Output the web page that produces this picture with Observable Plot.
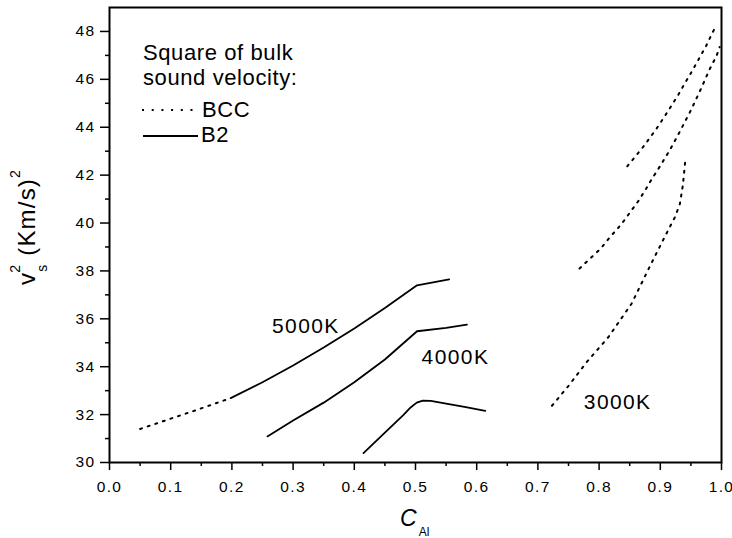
<!DOCTYPE html>
<html>
<head>
<meta charset="utf-8">
<script src="https://cdn.jsdelivr.net/npm/d3@7"></script>
<script src="https://cdn.jsdelivr.net/npm/@observablehq/plot@0.6"></script>
<style>
  body { margin: 0; background: #fff; }
  #chart { width: 732px; height: 538px; }
  .ticklab text { letter-spacing: 1.4px; }
</style>
</head>
<body>
<div id="chart"></div>
<script>
// ---- tick labels ----
const xTicks = [0.0, 0.1, 0.2, 0.3, 0.4, 0.5, 0.6, 0.7, 0.8, 0.9, 1.0];
const xMinorTicks = [0.05, 0.15, 0.25, 0.35, 0.45, 0.55, 0.65, 0.75, 0.85, 0.95];
const yTicks = [30, 32, 34, 36, 38, 40, 42, 44, 46, 48];
const yMinorTicks = [31, 33, 35, 37, 39, 41, 43, 45, 47];

// ---- B2 (solid) branches ----
const b2_5000K_x = [0.198, 0.25, 0.30, 0.35, 0.40, 0.45, 0.5025, 0.555];
const b2_5000K_y = [32.69, 33.35, 34.05, 34.80, 35.60, 36.45, 37.40, 37.65];
const b2_4000K_x = [0.258, 0.30, 0.35, 0.40, 0.45, 0.5025, 0.55, 0.584];
const b2_4000K_y = [31.09, 31.75, 32.50, 33.35, 34.30, 35.48, 35.62, 35.76];
const b2_3000K_x = [0.415, 0.45, 0.48, 0.492, 0.502, 0.512, 0.525, 0.55, 0.58, 0.614];
const b2_3000K_y = [30.39, 31.25, 31.98, 32.30, 32.50, 32.58, 32.57, 32.46, 32.32, 32.16];

// ---- BCC (dotted) branches ----
const bcc_5000K_low_x = [0.05, 0.10, 0.15, 0.198];
const bcc_5000K_low_y = [31.40, 31.83, 32.26, 32.69];
const bcc_5000K_x = [0.846, 0.860, 0.870, 0.883, 0.894, 0.906, 0.917, 0.929, 0.940, 0.952, 0.963, 0.975, 0.986, 0.992];
const bcc_5000K_y = [42.37, 42.80, 43.11, 43.56, 43.95, 44.41, 44.85, 45.34, 45.83, 46.35, 46.85, 47.40, 47.99, 48.27];
const bcc_4000K_x = [0.768, 0.8025, 0.817, 0.831, 0.839, 0.853, 0.865, 0.877, 0.885, 0.900, 0.917, 0.934, 0.951, 0.968, 0.980, 0.992, 0.997];
const bcc_4000K_y = [38.10, 38.93, 39.39, 39.79, 40.04, 40.53, 40.95, 41.44, 41.79, 42.39, 43.11, 43.92, 44.76, 45.69, 46.39, 46.99, 47.35];
const bcc_3000K_x = [0.723, 0.75, 0.78, 0.815, 0.853, 0.885, 0.91, 0.924, 0.932, 0.937, 0.941];
const bcc_3000K_y = [32.37, 33.20, 34.20, 35.23, 36.63, 38.30, 39.56, 40.25, 40.80, 41.60, 42.65];

// ---- curve labels ----
const curveLabels = ["5000K", "4000K", "3000K"];
const curveLabelX = [0.2655, 0.510, 0.775];
const curveLabelY = [35.70, 34.41, 32.53];

// ---- legend ----
const legendTitle = ["Square of bulk", "sound velocity:"];
const legendItems = ["BCC", "B2"];

function rows(xs, ys, series) {
  return xs.map((x, i) => ({x, y: ys[i], series}));
}
const b2Rows = [
  ...rows(b2_5000K_x, b2_5000K_y, "5000K"),
  ...rows(b2_4000K_x, b2_4000K_y, "4000K"),
  ...rows(b2_3000K_x, b2_3000K_y, "3000K")
];
const bccRows = [
  ...rows(bcc_5000K_low_x, bcc_5000K_low_y, "5000K-low"),
  ...rows(bcc_5000K_x, bcc_5000K_y, "5000K"),
  ...rows(bcc_4000K_x, bcc_4000K_y, "4000K"),
  ...rows(bcc_3000K_x, bcc_3000K_y, "3000K")
];
const labelRows = curveLabels.map((t, i) => ({text: t, x: curveLabelX[i], y: curveLabelY[i]}));

const FONT = "'Liberation Sans', Arial, Helvetica, sans-serif";

const chart = Plot.plot({
  width: 732,
  height: 538,
  marginLeft: 109,
  marginRight: 11,
  marginTop: 7,
  marginBottom: 76,
  style: {fontFamily: FONT, fontSize: "15px", background: "white", color: "black", overflow: "visible"},
  x: {domain: [0, 1]},
  y: {domain: [30, 49]},
  marks: [
    Plot.axisX({ticks: xTicks, tickSize: 8, tickPadding: 10, tickFormat: d3.format(".1f"), label: null, strokeWidth: 1.5, fontSize: 15.5, className: "ticklab"}),
    Plot.axisX({ticks: xMinorTicks, tickSize: 4, tickFormat: () => "", label: null, strokeWidth: 1.5}),
    Plot.axisY({ticks: yTicks, tickSize: 9, tickPadding: 5, label: null, strokeWidth: 1.5, fontSize: 15.5, className: "ticklab"}),
    Plot.axisY({ticks: yMinorTicks, tickSize: 4, tickFormat: () => "", label: null, strokeWidth: 1.5}),
    Plot.line(bccRows, {x: "x", y: "y", z: "series", stroke: "black", strokeWidth: 2, strokeDasharray: "2,6"}),
    Plot.line(b2Rows, {x: "x", y: "y", z: "series", stroke: "black", strokeWidth: 1.8}),
    Plot.text(labelRows, {x: "x", y: "y", text: "text", textAnchor: "start", fontSize: 21, fill: "black", className: "ticklab"}),
    Plot.frame({stroke: "black", strokeWidth: 2})
  ]
});

document.getElementById("chart").appendChild(chart);

const svg = d3.select(chart);

// y axis title
const yt = svg.append("text")
  .attr("transform", "translate(35,227) rotate(-90)")
  .attr("text-anchor", "middle")
  .attr("font-size", 24)
  .attr("letter-spacing", "1.2px")
  .attr("fill", "black");
yt.append("tspan").text("v");
yt.append("tspan").attr("font-size", 14).attr("dy", 12).text("s");
yt.append("tspan").attr("font-size", 14).attr("dx", -9).attr("dy", -27).text("2");
yt.append("tspan").attr("dy", 15).text(" (Km/s)");
yt.append("tspan").attr("font-size", 14).attr("dy", -15).text("2");

// x axis title
const xt = svg.append("text").attr("x", 400).attr("y", 526)
  .attr("text-anchor", "start").attr("font-size", 23).attr("fill", "black");
xt.append("tspan").attr("font-style", "italic").text("C");
xt.append("tspan").attr("font-size", 12).attr("dy", 10).attr("dx", 2).text("Al");

// legend
const lg = svg.append("g").attr("font-size", 22).attr("fill", "black")
  .attr("text-anchor", "start").attr("letter-spacing", "0.6px");
lg.append("text").attr("x", 143).attr("y", 60).text(legendTitle[0]);
lg.append("text").attr("x", 143).attr("y", 85).text(legendTitle[1]);
lg.append("line").attr("x1", 142).attr("x2", 197).attr("y1", 110).attr("y2", 110)
  .attr("stroke", "black").attr("stroke-width", 2).attr("stroke-dasharray", "2,7.7");
lg.append("text").attr("x", 202).attr("y", 117).text(legendItems[0]);
lg.append("line").attr("x1", 143).attr("x2", 198).attr("y1", 136).attr("y2", 136)
  .attr("stroke", "black").attr("stroke-width", 1.8);
lg.append("text").attr("x", 201).attr("y", 142).text(legendItems[1]);
</script>
</body>
</html>
